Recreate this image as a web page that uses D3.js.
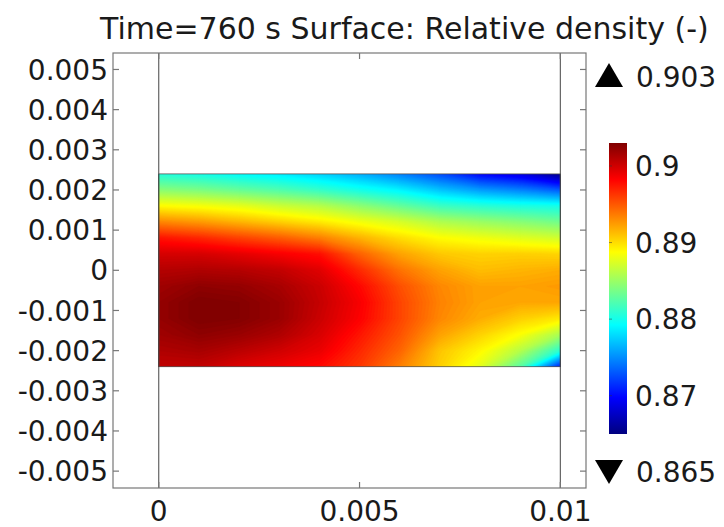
<!DOCTYPE html>
<html>
<head>
<meta charset="utf-8">
<script src="https://cdn.jsdelivr.net/npm/d3@7/dist/d3.min.js"></script>
<style>
  body { margin: 0; background: #fff; }
  text { font-family: "DejaVu Sans", sans-serif; fill: #1a1a1a; }
</style>
</head>
<body>
<div id="chart"></div>
<script>
var title = "Time=760 s Surface: Relative density (-)";

// grid of the surface (rows top to bottom)
var gridX = [0, 0.001, 0.002, 0.003, 0.004, 0.005, 0.006, 0.007, 0.008, 0.009, 0.01];
var gridY = [0.0024, 0.002, 0.0016, 0.0012, 0.0008, 0.0004, 0, -0.0004, -0.0008, -0.0012, -0.0016, -0.002, -0.0024];
var density = [
  [0.8805, 0.8800, 0.8792, 0.8785, 0.8775, 0.8762, 0.8745, 0.8725, 0.8698, 0.8685, 0.8652],
  [0.8843, 0.8838, 0.8830, 0.8822, 0.8812, 0.8800, 0.8788, 0.8770, 0.8755, 0.8745, 0.8730],
  [0.8888, 0.8884, 0.8878, 0.8868, 0.8860, 0.8845, 0.8830, 0.8815, 0.8808, 0.8803, 0.8800],
  [0.8932, 0.8925, 0.8915, 0.8905, 0.8895, 0.8883, 0.8872, 0.8858, 0.8850, 0.8843, 0.8835],
  [0.8975, 0.8968, 0.8958, 0.8948, 0.8935, 0.8916, 0.8900, 0.8888, 0.8882, 0.8876, 0.8870],
  [0.8998, 0.8998, 0.8992, 0.8985, 0.8977, 0.8946, 0.8922, 0.8908, 0.8904, 0.8905, 0.8903],
  [0.9010, 0.9012, 0.9010, 0.9005, 0.8994, 0.8967, 0.8940, 0.8922, 0.8912, 0.8915, 0.8918],
  [0.9018, 0.9024, 0.9022, 0.9015, 0.9002, 0.8980, 0.8953, 0.8932, 0.8922, 0.8922, 0.8925],
  [0.9022, 0.9030, 0.9028, 0.9020, 0.9004, 0.8985, 0.8957, 0.8934, 0.8922, 0.8920, 0.8920],
  [0.9022, 0.9030, 0.9028, 0.9020, 0.9002, 0.8983, 0.8957, 0.8932, 0.8918, 0.8905, 0.8895],
  [0.9018, 0.9024, 0.9020, 0.9012, 0.8997, 0.8975, 0.8952, 0.8922, 0.8904, 0.8886, 0.8855],
  [0.9012, 0.9015, 0.9008, 0.9000, 0.8990, 0.8968, 0.8945, 0.8909, 0.8890, 0.8860, 0.8808],
  [0.9005, 0.9005, 0.8995, 0.8988, 0.8980, 0.8962, 0.8935, 0.8905, 0.8877, 0.8825, 0.8705]
];

var xTicks = [0, 0.005, 0.01];
var yTicks = [0.005, 0.004, 0.003, 0.002, 0.001, 0, -0.001, -0.002, -0.003, -0.004, -0.005];
var barTicks = [0.87, 0.88, 0.89, 0.9];
var range = [0.865, 0.903];

// jet colour table
var jetStops = [0, 0.125, 0.375, 0.625, 0.875, 1];
var jetColors = ["#00007f", "#0000ff", "#00ffff", "#ffff00", "#ff0000", "#7f0000"];

var width = 724, height = 527;

var svg = d3.select("#chart")
  .append("svg")
    .attr("width", width)
    .attr("height", height);

svg.append("rect")
    .attr("width", width)
    .attr("height", height)
    .attr("fill", "#fff");

var x = d3.scaleLinear()
    .domain([-0.00114, 0.01064])
    .range([113, 586]);

var y = d3.scaleLinear()
    .domain([-0.00542, 0.00541])
    .range([488, 53]);

var t = d3.scaleLinear().domain(range);
var jet = d3.scaleLinear()
    .domain(jetStops.map(t.invert))
    .range(jetColors)
    .clamp(true);

// surface
var nx = gridX.length, ny = gridY.length;
var stepX = gridX[1] - gridX[0], stepY = gridY[0] - gridY[1];
var levelStep = 0.0002;
var levels = d3.range(range[0], range[1] + levelStep, levelStep);

var contours = d3.contours()
    .size([nx, ny])
    .thresholds(levels)
    (density.flat());

var toPixels = d3.geoTransform({
  point: function(c, r) {
    this.stream.point(x(gridX[0] + (c - 0.5) * stepX), y(gridY[0] - (r - 0.5) * stepY));
  }
});

svg.append("clipPath")
    .attr("id", "domain")
  .append("rect")
    .attr("x", x(0))
    .attr("y", y(gridY[0]))
    .attr("width", x(0.01) - x(0))
    .attr("height", y(gridY[ny - 1]) - y(gridY[0]));

svg.append("g")
    .attr("clip-path", "url(#domain)")
  .selectAll("path")
    .data(contours)
  .enter().append("path")
    .attr("d", d3.geoPath(toPixels))
    .attr("fill", d => jet(d.value + levelStep / 2))
    .attr("stroke", d => jet(d.value + levelStep / 2))
    .attr("stroke-width", 0.6);

// geometry edges
svg.append("rect")
    .attr("x", x(0))
    .attr("y", y(gridY[0]))
    .attr("width", x(0.01) - x(0))
    .attr("height", y(gridY[ny - 1]) - y(gridY[0]))
    .attr("fill", "none")
    .attr("stroke", "#555")
    .attr("stroke-width", 0.8);

svg.selectAll(".edge")
    .data([0, 0.01])
  .enter().append("line")
    .attr("class", "edge")
    .attr("x1", d => x(d)).attr("x2", d => x(d))
    .attr("y1", y.range()[0]).attr("y2", y.range()[1])
    .attr("stroke", "#444")
    .attr("stroke-width", 1);

// frame and ticks
var frame = svg.append("g")
    .attr("stroke", "#777")
    .attr("stroke-width", 1.2);

frame.append("rect")
    .attr("x", x.range()[0])
    .attr("y", y.range()[1])
    .attr("width", x.range()[1] - x.range()[0])
    .attr("height", y.range()[0] - y.range()[1])
    .attr("fill", "none");

var tick = 6;
frame.selectAll(".yl").data(yTicks).enter().append("line")
    .attr("x1", x.range()[0]).attr("x2", x.range()[0] + tick)
    .attr("y1", d => y(d)).attr("y2", d => y(d));
frame.selectAll(".yr").data(yTicks).enter().append("line")
    .attr("x1", x.range()[1]).attr("x2", x.range()[1] - tick)
    .attr("y1", d => y(d)).attr("y2", d => y(d));
frame.selectAll(".xb").data(xTicks).enter().append("line")
    .attr("x1", d => x(d)).attr("x2", d => x(d))
    .attr("y1", y.range()[0]).attr("y2", y.range()[0] - tick);
frame.selectAll(".xt").data(xTicks).enter().append("line")
    .attr("x1", d => x(d)).attr("x2", d => x(d))
    .attr("y1", y.range()[1]).attr("y2", y.range()[1] + tick);

var fmt = d => String(+d.toFixed(4));

svg.selectAll(".ylab")
    .data(yTicks)
  .enter().append("text")
    .attr("x", x.range()[0] - 5)
    .attr("y", d => y(d))
    .attr("dy", "0.36em")
    .attr("text-anchor", "end")
    .style("font-size", "28px")
    .text(fmt);

svg.selectAll(".xlab")
    .data(xTicks)
  .enter().append("text")
    .attr("x", d => x(d))
    .attr("y", 521)
    .attr("text-anchor", "middle")
    .style("font-size", "28px")
    .text(fmt);

svg.append("text")
    .attr("x", 100)
    .attr("y", 39)
    .style("font-size", "30px")
    .text(title);

// colour bar
var bar = d3.scaleLinear()
    .domain(range)
    .range([434, 143]);

var grad = svg.append("defs").append("linearGradient")
    .attr("id", "jet")
    .attr("x1", 0).attr("y1", 1)
    .attr("x2", 0).attr("y2", 0);

grad.selectAll("stop")
    .data(jetStops)
  .enter().append("stop")
    .attr("offset", d => d)
    .attr("stop-color", (d, i) => jetColors[i]);

svg.append("rect")
    .attr("x", 609)
    .attr("y", bar(range[1]))
    .attr("width", 18)
    .attr("height", bar(range[0]) - bar(range[1]))
    .attr("fill", "url(#jet)");

svg.selectAll(".btick")
    .data(barTicks)
  .enter().append("line")
    .attr("x1", 609).attr("x2", 612)
    .attr("y1", d => bar(d)).attr("y2", d => bar(d))
    .attr("stroke", "#333")
    .attr("stroke-opacity", 0.5);

svg.selectAll(".blab")
    .data(barTicks)
  .enter().append("text")
    .attr("x", 635)
    .attr("y", d => bar(d))
    .attr("dy", "0.36em")
    .style("font-size", "28px")
    .text(fmt);

// max / min markers
svg.append("path")
    .attr("d", "M595,87L609,63L623,87Z")
    .attr("fill", "#000");
svg.append("path")
    .attr("d", "M595,460L609,484L623,460Z")
    .attr("fill", "#000");

svg.append("text")
    .attr("x", 636)
    .attr("y", 87)
    .style("font-size", "28px")
    .text(range[1].toFixed(3));

svg.append("text")
    .attr("x", 636)
    .attr("y", 482)
    .style("font-size", "28px")
    .text(range[0].toFixed(3));
</script>
</body>
</html>
